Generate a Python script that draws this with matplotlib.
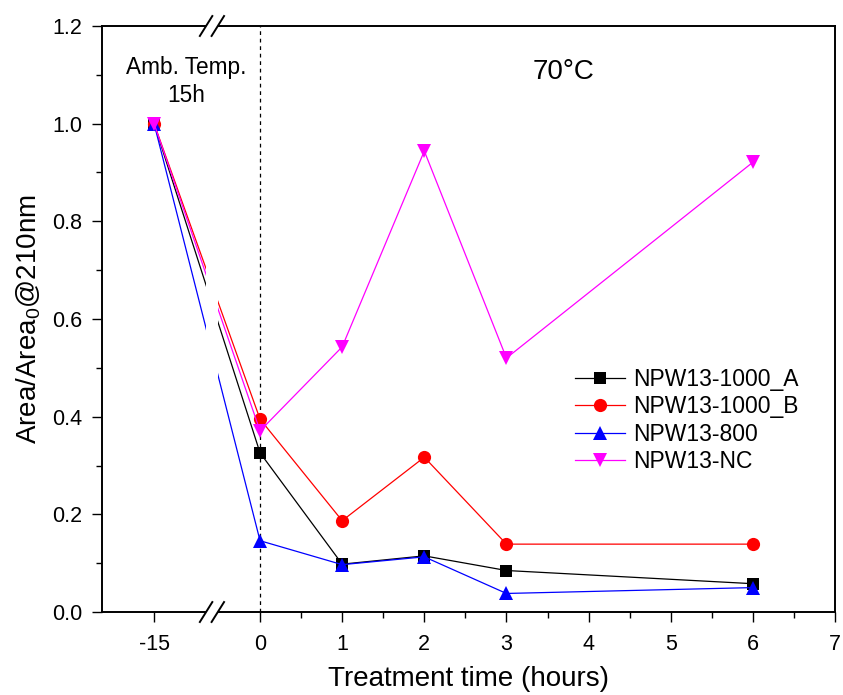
import numpy as np
import matplotlib
matplotlib.use('Agg')
import matplotlib.pyplot as plt
from matplotlib.patches import Rectangle
from matplotlib.lines import Line2D

plt.rcParams['font.family'] = ['Liberation Sans', 'DejaVu Sans']
plt.rcParams['mathtext.fontset'] = 'custom'
plt.rcParams['mathtext.rm'] = 'Liberation Sans'
plt.rcParams['mathtext.it'] = 'Liberation Sans:italic'

# data
hours = [-15, 0, 1, 2, 3, 6]
npw_1000_a = [1.0, 0.326, 0.098, 0.115, 0.085, 0.058]
npw_1000_b = [1.0, 0.395, 0.187, 0.317, 0.139, 0.139]
npw_800 = [1.0, 0.146, 0.097, 0.113, 0.038, 0.050]
npw_nc = [1.0, 0.371, 0.543, 0.944, 0.520, 0.921]
labels = ['NPW13-1000_A', 'NPW13-1000_B', 'NPW13-800', 'NPW13-NC']
xticks = [-15, 0, 1, 2, 3, 4, 5, 6, 7]

# squeeze the negative side (axis break)
k = 1.29 / 15

def fwd(x):
    x = np.asarray(x, dtype=float)
    return np.where(x < 0, x * k, x)

def inv(x):
    x = np.asarray(x, dtype=float)
    return np.where(x < 0, x / k, x)

fig = plt.figure(figsize=(8.43, 6.95), dpi=100)
ax = fig.add_axes([0.121, 0.1194, 0.8695, 0.8432])
ax.set_xscale('function', functions=(fwd, inv))

series = [npw_1000_a, npw_1000_b, npw_800, npw_nc]
colors = ['black', 'red', 'blue', 'magenta']
markers = ['s', 'o', '^', 'v']
msizes = [8.5, 9.5, 10, 10]
for ys, c, m, ms, lab in zip(series, colors, markers, msizes, labels):
    ax.plot(hours, ys, color=c, marker=m, markersize=ms, lw=0.9,
            markeredgewidth=0, label=lab)

ax.axvline(0, color='black', lw=0.9, ls=(0, (3, 3)), zorder=1)

ax.set_xlim(-1.924 / k, 7.0)
ax.set_ylim(0, 1.2)
ax.set_xticks(xticks)
ax.set_xticklabels([str(t) for t in xticks])
ax.set_xticks([0.5, 1.5, 2.5, 3.5, 4.5, 5.5, 6.5], minor=True)
ax.set_yticks(np.arange(0, 1.21, 0.2))
ax.set_yticklabels(['%.1f' % v for v in np.arange(0, 1.21, 0.2)])
ax.set_yticks(np.arange(0.1, 1.2, 0.2), minor=True)
ax.tick_params(which='both', direction='out', width=1.0, labelsize=15.5, top=False, right=False)
ax.tick_params(which='major', length=7)
ax.tick_params(which='minor', length=4.2)
ax.tick_params(axis='x', which='major', pad=9)
ax.tick_params(axis='y', which='major', pad=7)
for s in ax.spines.values():
    s.set_linewidth(1.4)

ax.set_xlabel('Treatment time (hours)', fontsize=20, labelpad=8)
ax.set_ylabel('Area/Area$_\\mathregular{0}$@210nm', fontsize=20, labelpad=7)

ax.text(0.115, 0.905, 'Amb. Temp.\n15h', transform=ax.transAxes, ha='center',
        va='center', fontsize=16.3, linespacing=1.25, zorder=6)
ax.text(0.630, 0.921, '70°C', transform=ax.transAxes, ha='center', va='center',
        fontsize=20, zorder=6)

# axis break
x0, x1 = 0.142, 0.158
ax.add_patch(Rectangle((x0, -0.02), x1 - x0, 1.04, transform=ax.transAxes,
                       facecolor='white', edgecolor='none', clip_on=False, zorder=3))
dx, dy = 0.0085, 0.017
for yb in (0, 1):
    for xb in (x0, x1):
        ax.add_line(Line2D([xb - dx, xb + dx], [yb - dy, yb + dy], transform=ax.transAxes,
                           color='black', lw=1.4, clip_on=False, zorder=4))

ax.legend(loc='center left', bbox_to_anchor=(575 / 843, 0.395), bbox_transform=fig.transFigure,
          frameon=False, fontsize=16.5, handlelength=2.2, handletextpad=0.35,
          labelspacing=0.18, borderpad=0, borderaxespad=0)

fig.savefig('out.png', dpi=100)
